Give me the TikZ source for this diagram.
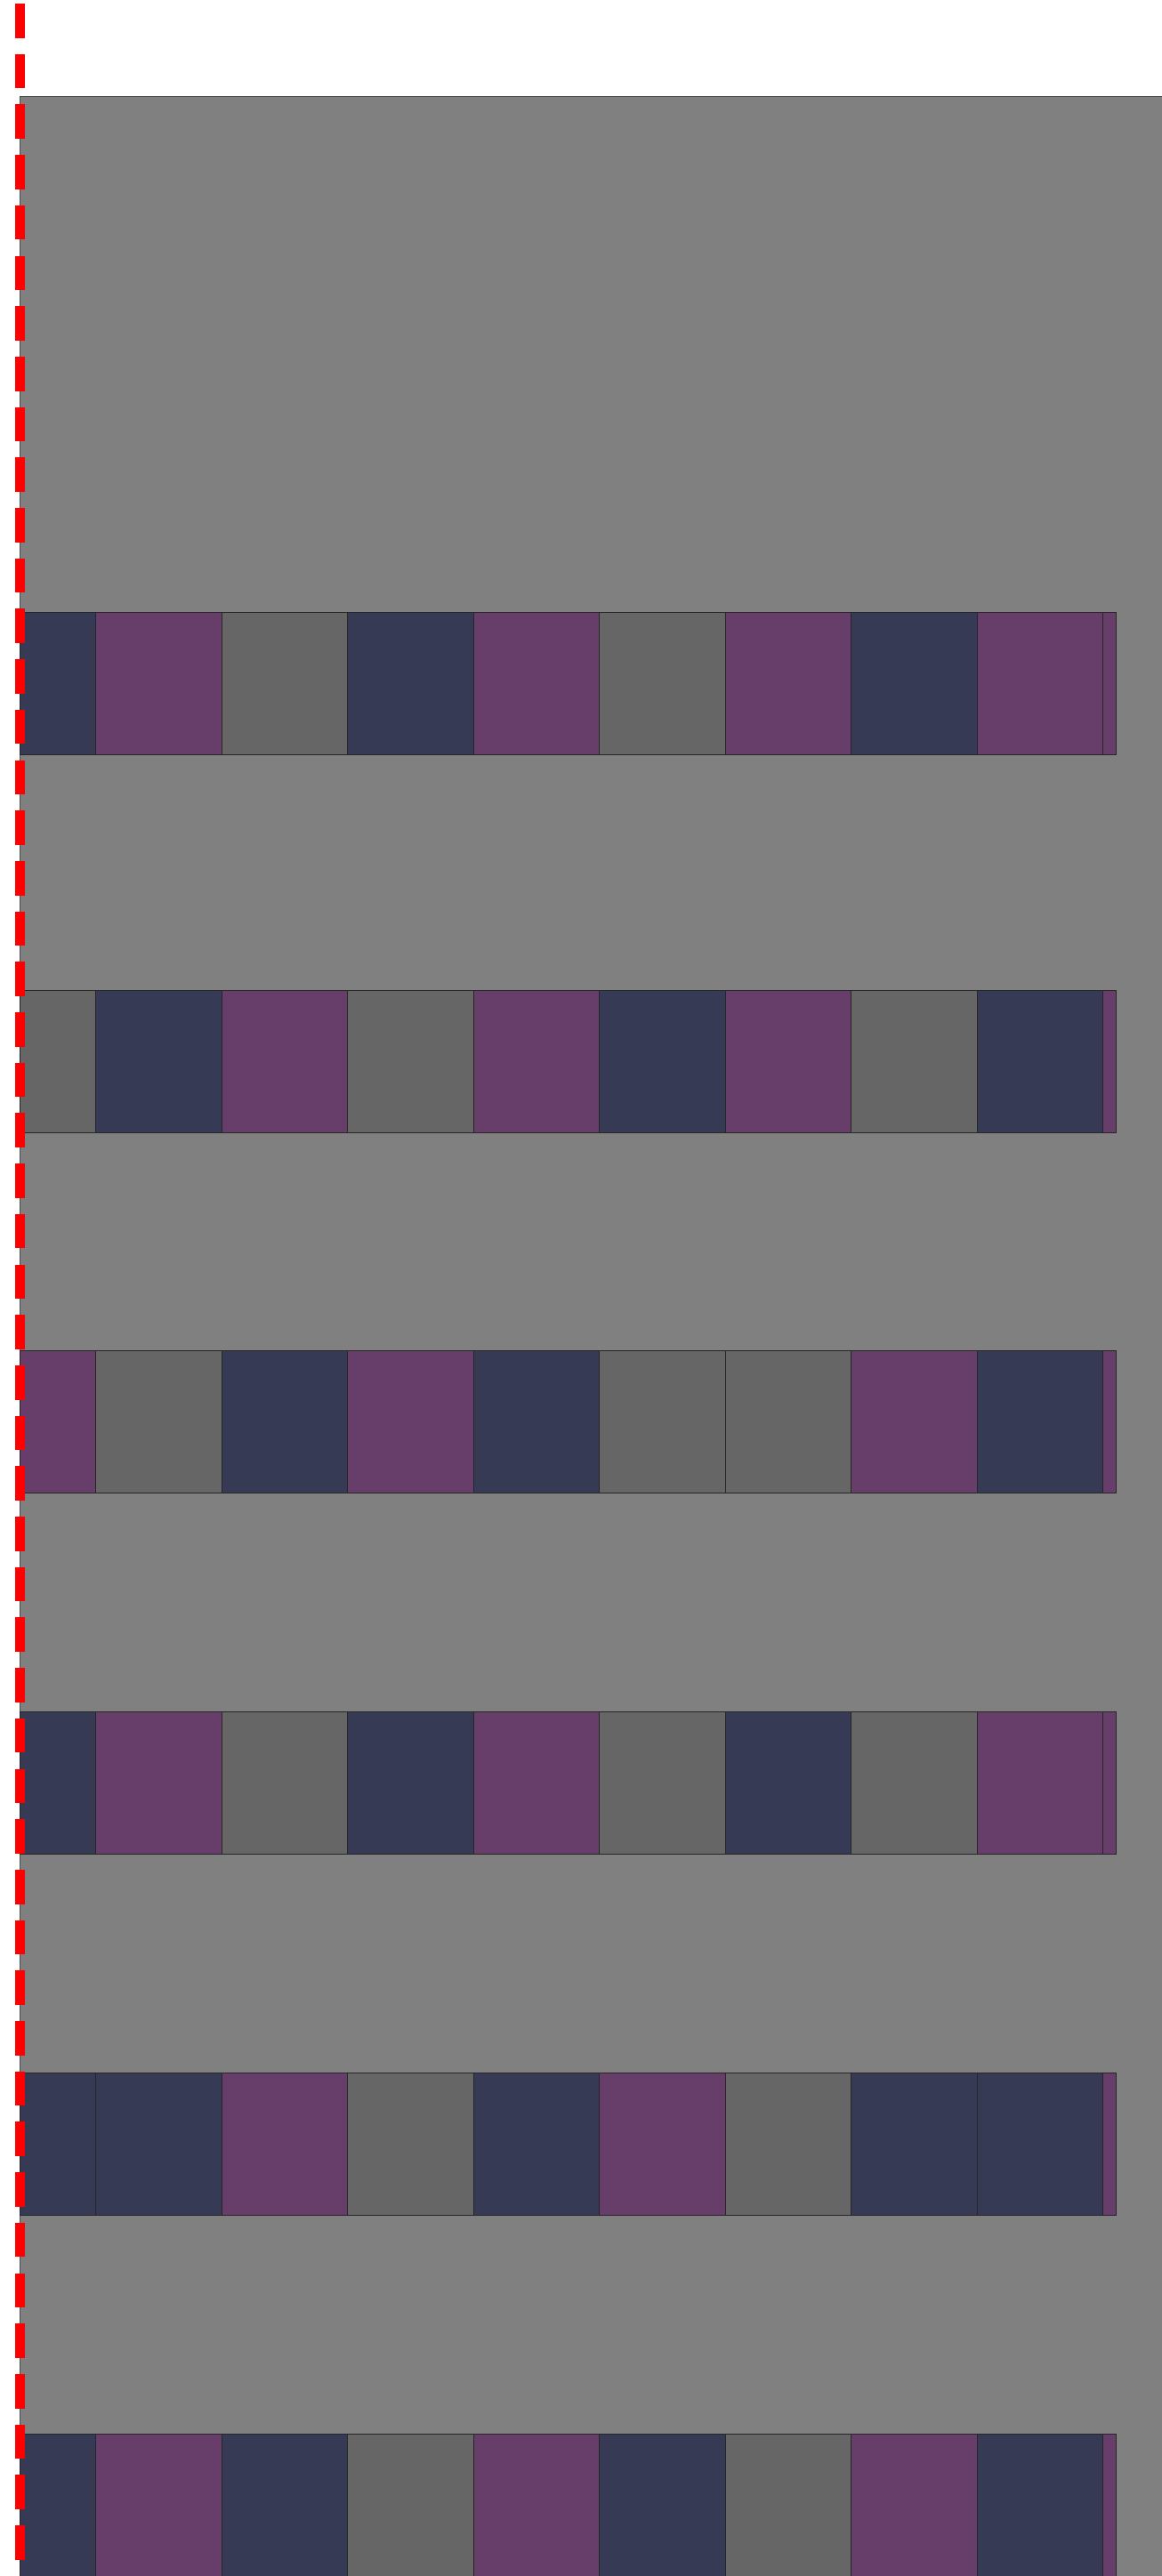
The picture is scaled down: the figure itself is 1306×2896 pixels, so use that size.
\documentclass[tikz,border=0pt]{standalone}
\definecolor{cN}{RGB}{54,58,85}
\definecolor{cP}{RGB}{103,61,106}
\definecolor{cG}{RGB}{102,102,102}
\definecolor{bgc}{RGB}{128,128,128}
\tikzset{
  cell/.style={line width=0.5pt, draw=black!85},
  bgpanel/.style={fill=bgc, draw=black!70, line width=0.5pt},
  guide/.style={draw=red, line width=5.35pt, dash pattern=on 19.3pt off 9.05pt}
}
\begin{document}
\begin{tikzpicture}[x=0.5pt,y=-0.5pt]
\useasboundingbox (0,0) rectangle (1306,2896);
\filldraw[bgpanel] (22,108) rectangle (1310,2900);
\foreach \yy/\cols in {688/{N,P,G,N,P,G,P,N,P,P},
                       1113/{G,N,P,G,P,N,P,G,N,P},
                       1518/{P,G,N,P,N,G,G,P,N,P},
                       1924/{N,P,G,N,P,G,N,G,P,P},
                       2330/{N,N,P,G,N,P,G,N,N,P},
                       2736/{N,P,N,G,P,N,G,P,N,P}}{
  \foreach \c [count=\i from 0] in \cols {
    \pgfmathsetmacro{\xl}{\i==0 ? 22 : 107.5+141.5*(\i-1)}
    \pgfmathsetmacro{\xr}{\i==0 ? 107.5 : (\i==9 ? 1254 : 107.5+141.5*\i)}
    \filldraw[cell, fill=c\c] (\xl,\yy) rectangle (\xr,\yy+160.5);
  }
}
\coordinate (gtop) at (22.4,4);
\coordinate (gbot) at (22.4,2896);
\draw[guide] (gtop) -- (gbot);
\end{tikzpicture}
\end{document}
